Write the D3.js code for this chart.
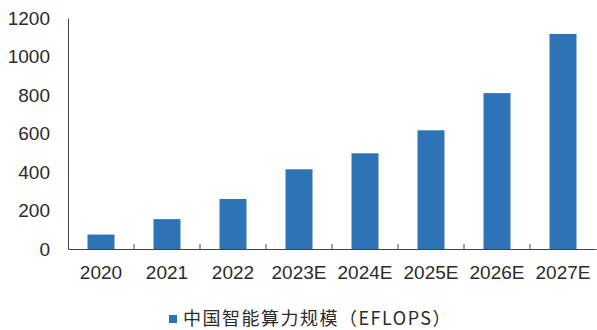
<!DOCTYPE html>
<html><head><meta charset="utf-8">
<script src="https://cdn.jsdelivr.net/npm/d3@7"></script>
<style>body{margin:0;background:#fff;}svg{display:block;}</style>
</head><body>
<script>
const categories = ["2020","2021","2022","2023E","2024E","2025E","2026E","2027E"];
const values = [75, 155.2, 259.9, 414.1, 497, 616.6, 809.8, 1117.4];
const yTicks = [0, 200, 400, 600, 800, 1000, 1200];
const seriesName = "中国智能算力规模（EFLOPS）";

const W = 597, H = 330;
const m = {left: 68, right: 1, top: 18, bottom: 81};
const svg = d3.select("body").append("svg").attr("width", W).attr("height", H);

const xb = d3.scaleBand().domain(categories).range([m.left, W - m.right]);
const y = d3.scaleLinear().domain([0, 1200]).range([H - m.bottom, m.top]);

const color = "#2e73b5";
const axisColor = "#444";
const textColor = "#2b2b2b";
const latin = "'Liberation Sans', Arial, sans-serif";

svg.selectAll("rect.bar").data(values).enter().append("rect")
  .attr("x", (d, i) => xb(categories[i]) + xb.bandwidth() / 2 - 13.5)
  .attr("width", 27)
  .attr("y", d => y(d))
  .attr("height", d => y(0) - y(d))
  .attr("fill", color);

// y axis
const gy = svg.append("g").attr("transform", `translate(${m.left},0)`)
  .call(d3.axisLeft(y).tickValues(yTicks).tickFormat(d3.format("d")).tickSize(0).tickPadding(18));
gy.select(".domain").attr("stroke", axisColor);
gy.selectAll("text").attr("font-family", latin)
  .attr("font-size", 19).attr("fill", textColor);

// x axis
const gx = svg.append("g").attr("transform", `translate(0,${y(0)})`)
  .call(d3.axisBottom(xb).tickSize(0).tickPadding(17));
gx.select(".domain").attr("stroke", axisColor);
gx.selectAll("text").attr("font-family", latin)
  .attr("font-size", 19).attr("fill", textColor);
// boundary ticks pointing up
const bounds = categories.slice(1).map(c => xb(c));
gx.selectAll("line.bt").data(bounds).enter().append("line")
  .attr("x1", d => d).attr("x2", d => d).attr("y1", 0).attr("y2", -5)
  .attr("stroke", axisColor);

// legend
const lg = svg.append("g").attr("transform", "translate(169,319)");
lg.append("rect").attr("x", 0).attr("y", -4).attr("width", 8).attr("height", 8).attr("fill", color);
lg.append("text").attr("x", 14).attr("y", 0).attr("dy", "0.35em")
  .attr("font-family", "'Noto Sans CJK SC', sans-serif").attr("font-size", 18)
  .attr("letter-spacing", 1.5)
  .attr("fill", textColor).text(seriesName);
</script>
</body></html>
